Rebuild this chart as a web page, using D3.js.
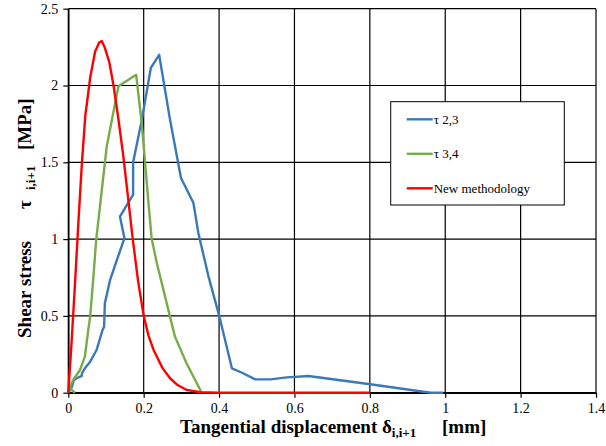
<!DOCTYPE html>
<html>
<head>
<meta charset="utf-8">
<script src="https://cdn.jsdelivr.net/npm/d3@7"></script>
<style>
  body { margin: 0; background: #fff; }
  svg { display: block; font-family: "Liberation Serif", "Times New Roman", serif; }
  svg .tick text { font-family: "Liberation Serif", "Times New Roman", serif; font-size: 14px; fill: #000; }
  .axis-title { font-weight: bold; }
  .legend text { font-size: 13px; }
</style>
</head>
<body>
<svg width="606" height="446"></svg>
<script>
// tau 2,3
const blueX = [0, 0.008, 0.011, 0.015, 0.022, 0.036, 0.036, 0.044, 0.058, 0.075, 0.091, 0.095, 0.097, 0.111, 0.129, 0.149, 0.137, 0.172, 0.172, 0.195, 0.219, 0.241, 0.27, 0.299, 0.332, 0.345, 0.372, 0.401, 0.434, 0.461, 0.496, 0.536, 0.58, 0.637, 0.801, 0.961, 0.995];
const blueY = [0, 0.03, 0.05, 0.083, 0.094, 0.11, 0.126, 0.159, 0.202, 0.278, 0.409, 0.43, 0.583, 0.735, 0.865, 1.006, 1.147, 1.289, 1.5, 1.776, 2.115, 2.2, 1.776, 1.398, 1.235, 1.04, 0.756, 0.495, 0.159, 0.13, 0.087, 0.087, 0.1, 0.109, 0.055, 0, 0];
// tau 3,4
const greenX = [0.018, 0.003, 0.013, 0.031, 0.044, 0.053, 0.058, 0.066, 0.074, 0.08, 0.102, 0.133, 0.18, 0.195, 0.212, 0.221, 0.235, 0.261, 0.283, 0.314, 0.354];
const greenY = [0, 0.029, 0.083, 0.148, 0.235, 0.409, 0.495, 0.734, 0.995, 1.126, 1.604, 1.995, 2.07, 1.75, 1.256, 1.006, 0.843, 0.583, 0.365, 0.19, 0];
// new methodology
const redX = [0, 0.009, 0.018, 0.027, 0.036, 0.045, 0.058, 0.071, 0.082, 0.089, 0.097, 0.109, 0.12, 0.133, 0.146, 0.159, 0.171, 0.185, 0.2, 0.213, 0.226, 0.25, 0.27, 0.29, 0.314, 0.35, 0.4, 0.8];
const redY = [0, 0.34, 0.72, 1.12, 1.49, 1.8, 2.05, 2.22, 2.28, 2.29, 2.245, 2.15, 2.0, 1.78, 1.54, 1.26, 1.0, 0.73, 0.5, 0.37, 0.28, 0.16, 0.094, 0.05, 0.018, 0.003, 0, 0];

const xTicks = [0, 0.2, 0.4, 0.6, 0.8, 1, 1.2, 1.4];
const yTicks = [0, 0.5, 1, 1.5, 2, 2.5];
const seriesNames = ["\u03c4 2,3", "\u03c4 3,4", "New methodology"];
const seriesColors = ["#3a78bb", "#77ad48", "#ff0000"];

const svg = d3.select("svg");
const width = +svg.attr("width");
const height = +svg.attr("height");
const margin = { top: 8.7, right: 10, bottom: 53.3, left: 68.3 };
const innerWidth = width - margin.left - margin.right;
const innerHeight = height - margin.top - margin.bottom;

const x = d3.scaleLinear().domain([0, 1.4]).range([0, innerWidth]);
const y = d3.scaleLinear().domain([0, 2.5]).range([innerHeight, 0]);

const g = svg.append("g").attr("transform", `translate(${margin.left},${margin.top})`);

// grid
g.append("g").selectAll("line").data(yTicks).join("line")
  .attr("x1", 0).attr("x2", innerWidth)
  .attr("y1", d => y(d)).attr("y2", d => y(d))
  .attr("stroke", "#000").attr("stroke-width", 1.2);
g.append("g").selectAll("line").data(xTicks).join("line")
  .attr("x1", d => x(d)).attr("x2", d => x(d))
  .attr("y1", 0).attr("y2", innerHeight)
  .attr("stroke", "#000").attr("stroke-width", 1.2);

const xAxis = g.append("g")
  .attr("transform", `translate(0,${innerHeight})`)
  .call(d3.axisBottom(x).tickValues(xTicks).tickSize(5).tickSizeOuter(0).tickFormat(d3.format("")));
const yAxis = g.append("g")
  .call(d3.axisLeft(y).tickValues(yTicks).tickSize(5).tickSizeOuter(0).tickFormat(d3.format("")));
[xAxis, yAxis].forEach(a => {
  a.attr("font-family", null).attr("font-size", null);
  a.select(".domain").attr("stroke", "#000").attr("stroke-width", 1.5);
  a.selectAll(".tick line").attr("stroke", "#000").attr("stroke-width", 1.2);
  a.selectAll(".tick text").style("font-family", "'Liberation Serif', serif");
});
xAxis.selectAll(".tick text").attr("y", 10).attr("dy", "0.71em");
yAxis.selectAll(".tick text").attr("x", -10);

// series
const line = d3.line().x(d => x(d[0])).y(d => y(d[1]));
const series = [
  d3.zip(blueX, blueY),
  d3.zip(greenX, greenY),
  d3.zip(redX, redY)
];
g.append("g").selectAll("path").data(series).join("path")
  .attr("d", line)
  .attr("fill", "none")
  .attr("stroke", (d, i) => seriesColors[i])
  .attr("stroke-width", 2.4)
  .attr("stroke-linejoin", "round");

// legend
const legend = svg.append("g").attr("class", "legend").attr("transform", "translate(390.7,101.7)");
legend.append("rect").attr("width", 173.6).attr("height", 103.3)
  .attr("fill", "#fff").attr("stroke", "#000").attr("stroke-width", 1);
const items = legend.selectAll("g.item").data(seriesNames).join("g")
  .attr("class", "item")
  .attr("transform", (d, i) => `translate(16,${17.6 + i * 34.5})`);
items.append("line").attr("x1", 0).attr("x2", 26)
  .attr("stroke", (d, i) => seriesColors[i]).attr("stroke-width", 2.4);
items.append("text").attr("x", 27).attr("dy", "0.35em").text(d => d);

// axis titles
const xt = svg.append("text").attr("class", "axis-title")
  .attr("x", 180).attr("y", 433).attr("font-size", 19);
xt.append("tspan").text("Tangential displacement \u03b4");
xt.append("tspan").attr("font-size", 13).attr("dy", 4).text("i,i+1");
xt.append("tspan").attr("x", 442).attr("dy", -4).text("[mm]");

const yt = svg.append("text").attr("class", "axis-title")
  .attr("transform", "translate(31,338) rotate(-90)").attr("font-size", 19);
yt.append("tspan").text("Shear stress");
yt.append("tspan").attr("x", 129).text("\u03c4");
yt.append("tspan").attr("x", 148).attr("font-size", 13).attr("dy", 4).text("i,i+1");
yt.append("tspan").attr("x", 188).attr("dy", -4).text("[MPa]");
</script>
</body>
</html>
